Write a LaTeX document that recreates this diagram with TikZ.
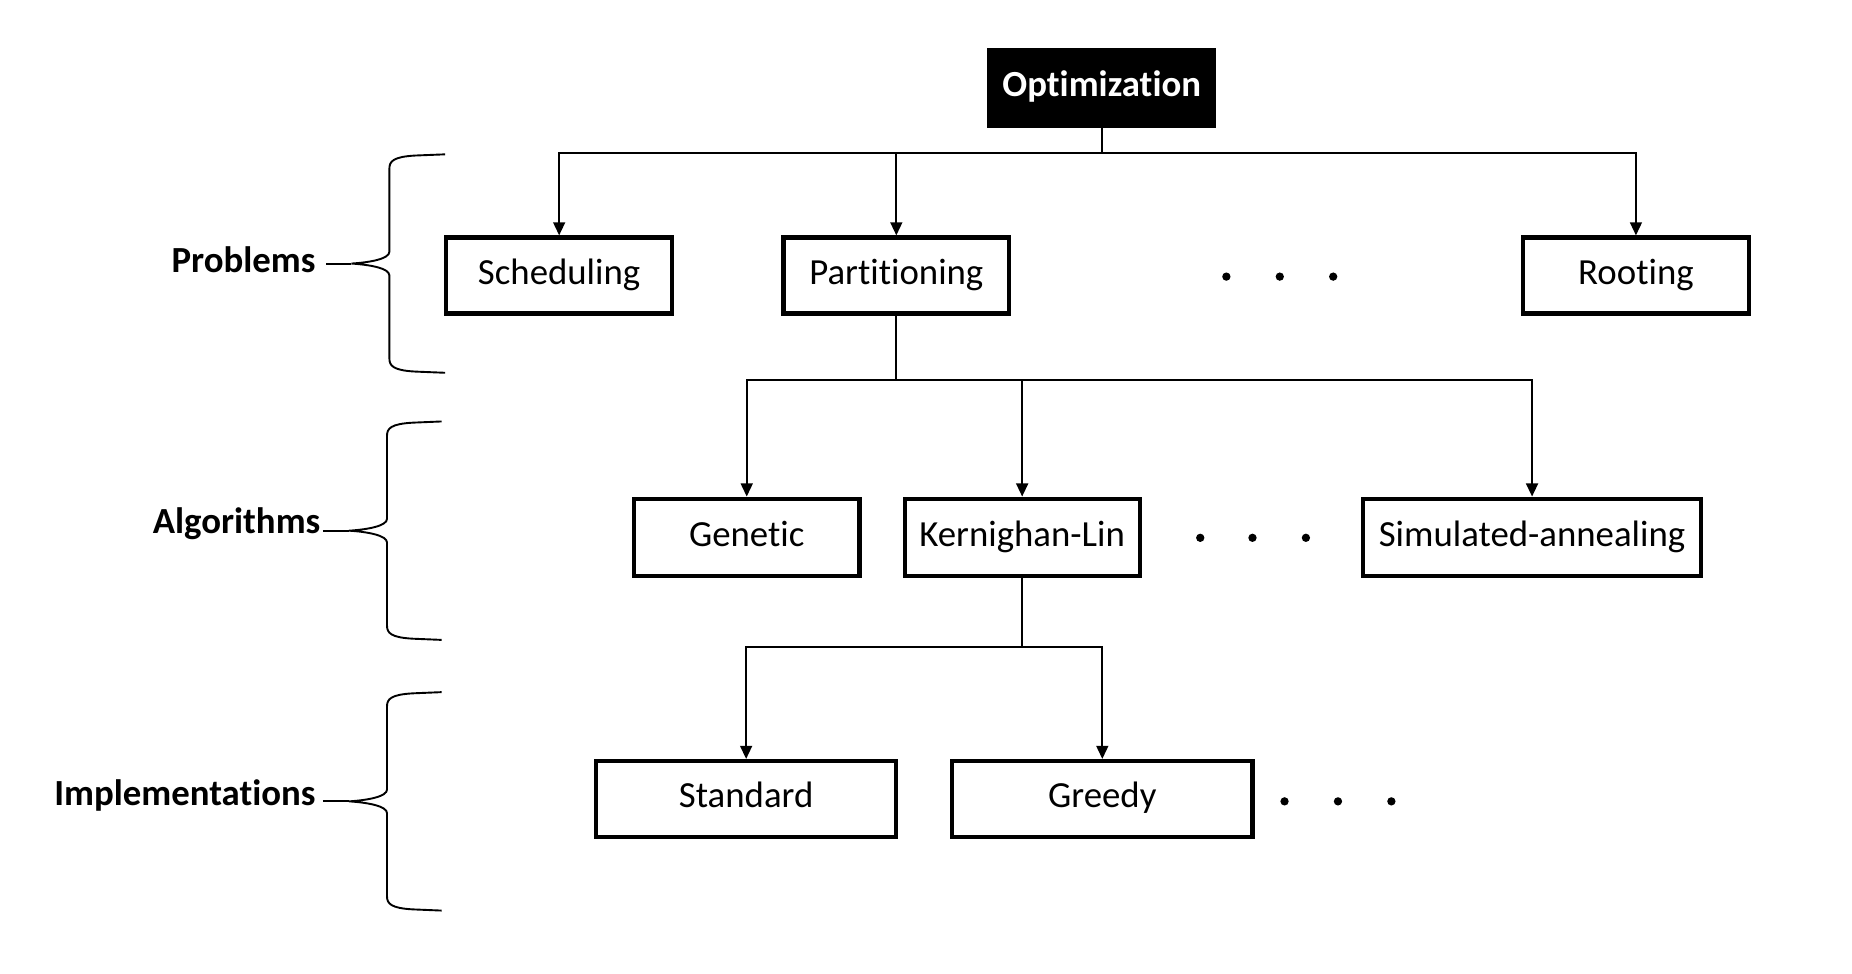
\documentclass[tikz,border=0pt]{standalone}
\usepackage{fontspec}
\setmainfont{Carlito}[Ligatures=NoCommon]
\usetikzlibrary{arrows.meta}
\tikzset{
  box/.style={draw=black, line width=3.5pt, fill=white, minimum height=64pt, inner sep=0pt, text height=22pt, text depth=7pt, font=\fontsize{31}{36}\selectfont},
  topbox/.style={draw=black, fill=black, line width=1pt, minimum width=192pt, minimum height=66pt, inner sep=0pt, text height=22pt, text depth=7pt, text=white, font=\fontsize{31}{36}\selectfont\bfseries},
  conn/.style={line width=1.6pt},
  arr/.style={line width=1.6pt, -{Triangle[length=11pt,width=10pt]}},
  brace/.style={line width=1.6pt},
  lab/.style={anchor=east, inner sep=0pt, text height=22pt, text depth=7pt, font=\fontsize{31}{36}\selectfont\bfseries},
  dot/.style={circle, fill=black, minimum size=7pt, inner sep=0pt},
}
\begin{document}
\begin{tikzpicture}[x=1pt, y=-1pt]
\useasboundingbox (0,0) rectangle (1560,820);
% boxes
\node[topbox] (opt) at (928,74) {Optimization};
\node[box, minimum width=190pt] (sched) at (471,232) {Scheduling};
\node[box, minimum width=190pt] (part) at (755,232) {Partitioning};
\node[box, minimum width=190pt] (root) at (1378,232) {Rooting};
\node[box, minimum width=190pt, minimum height=65pt] (gen) at (629,452.5) {Genetic};
\node[box, minimum width=198pt, minimum height=65pt] (kl) at (861,452.5) {Kernighan-Lin};
\node[box, minimum width=285pt, minimum height=65pt] (sa) at (1290.5,452.5) {Simulated-annealing};
\node[box, minimum width=253pt] (std) at (628.5,673) {Standard};
\node[box, minimum width=253pt] (gr) at (928.5,673) {Greedy};
% dots
\node[dot] (d1) at (1033,233) {};
\node[dot] (d2) at (1078,233) {};
\node[dot] (d3) at (1123,233) {};
\node[dot] (d4) at (1011,453) {};
\node[dot] (d5) at (1055,453) {};
\node[dot] (d6) at (1100,453) {};
\node[dot] (d7) at (1082,675) {};
\node[dot] (d8) at (1127,675) {};
\node[dot] (d9) at (1172,675) {};
% connectors
\coordinate (j1) at (928,129);
\coordinate (j2) at (755,320);
\coordinate (j3) at (861,545);
\draw[conn] (opt.south) -- (j1);
\draw[arr] (j1) -| (sched.north);
\draw[arr] (j1) -| (part.north);
\draw[arr] (j1) -| (root.north);
\draw[conn] (part.south) -- (j2);
\draw[arr] (j2) -| (gen.north);
\draw[arr] (j2) -| (kl.north);
\draw[arr] (j2) -| (sa.north);
\draw[conn] (kl.south) -- (j3);
\draw[arr] (j3) -| (std.north);
\draw[arr] (j3) -| (gr.north);
% labels
\node[lab] (lp) at (266,222) {Problems};
\node[lab] (la) at (270,442) {Algorithms};
\node[lab] (li) at (266,671) {Implementations};
% braces
\coordinate (c1) at (296,222);
\coordinate (c2) at (294,447);
\coordinate (c3) at (294,675);
\draw[brace] (375,130) -- (350,131) .. controls (331,132) and (328,136) .. (328,142) -- (328,212)
  .. controls (328,218) and (312,221) .. (c1) .. controls (312,223) and (328,226) .. (328,232)
  -- (328,302) .. controls (328,308) and (331,312) .. (350,313) -- (375,314);
\draw[brace] (lp.east) ++(9,0) -- (c1);
\draw[brace] (372,355) -- (348,356) .. controls (329,357) and (326,361) .. (326,367) -- (326,437)
  .. controls (326,443) and (310,446) .. (c2) .. controls (310,448) and (326,451) .. (326,457)
  -- (326,527) .. controls (326,533) and (329,537) .. (348,538) -- (372,539);
\draw[brace] (la.east) ++(2,5) -- (c2);
\draw[brace] (372,583) -- (348,584) .. controls (329,585) and (326,589) .. (326,595) -- (326,665)
  .. controls (326,671) and (310,674) .. (c3) .. controls (310,676) and (326,679) .. (326,685)
  -- (326,755) .. controls (326,761) and (329,765) .. (348,766) -- (372,767);
\draw[brace] (li.east) ++(6,4) -- (c3);
\end{tikzpicture}
\end{document}
